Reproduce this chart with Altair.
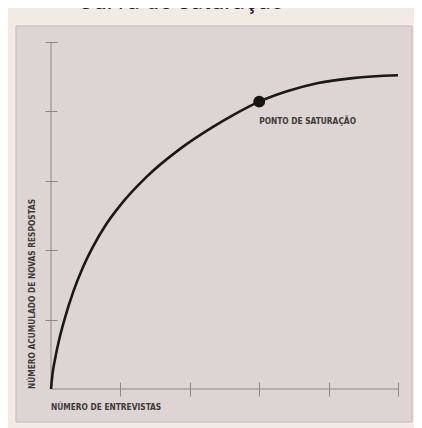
import altair as alt
import pandas as pd

# --- data ---
interviews = [0, 0.02, 0.06, 0.12, 0.2, 0.32, 0.45, 0.6, 0.8, 1.0, 1.38, 1.86, 2.34, 2.63, 3.0, 3.4, 3.85, 4.35, 5.0]
new_answers = [0, 0.2, 0.44, 0.72, 1.02, 1.40, 1.73, 2.04, 2.38, 2.65, 3.06, 3.46, 3.78, 3.95, 4.14, 4.29, 4.41, 4.48, 4.52]
sat_x = [3.0]
sat_y = [4.14]
sat_label = ["PONTO DE SATURAÇÃO"]
tick_values = [1, 2, 3, 4, 5]
title_text = "Curva de saturação"
x_title = "NÚMERO DE ENTREVISTAS"
y_title = "NÚMERO ACUMULADO DE NOVAS RESPOSTAS"

W = 347
H = 347
FONT = "DejaVu Sans Condensed, Liberation Sans Narrow, sans-serif"
FS = 8.3
TXT = "#3e3938"
AX = "#8e8786"

curve = pd.DataFrame({"x": interviews, "y": new_answers})
sat = pd.DataFrame({"x": sat_x, "y": sat_y, "label": sat_label})
one = pd.DataFrame({"t": [""]})

xs = alt.Scale(domain=[0, 5], nice=False, zero=False)
ys = alt.Scale(domain=[0, 5], nice=False, zero=False)

panel = alt.Chart(one).mark_rect(fill="#ddd5d3", stroke="#c4bbb9", strokeWidth=1).encode(
    x=alt.value(-35), x2=alt.value(W + 14), y=alt.value(-16), y2=alt.value(H + 33)
)

x_line = alt.Chart(one).mark_rule(color=AX, strokeWidth=1).encode(
    x=alt.value(0), x2=alt.value(W), y=alt.value(H)
)
y_line = alt.Chart(one).mark_rule(color=AX, strokeWidth=1).encode(
    x=alt.value(0), y=alt.value(0), y2=alt.value(H)
)

line = alt.Chart(curve).mark_line(color="#1b1818", strokeWidth=2.6, interpolate="monotone").encode(
    x=alt.X("x:Q", scale=xs, axis=alt.Axis(values=tick_values, labels=False, title="", domain=False,
                                          grid=False, tickSize=14, offset=-7, tickColor=AX, tickWidth=1,
                                          zindex=1)),
    y=alt.Y("y:Q", scale=ys, axis=alt.Axis(values=tick_values, labels=False, title="", domain=False,
                                          grid=False, tickSize=12, offset=-6, tickColor=AX, tickWidth=1,
                                          zindex=1)),
)

dot = alt.Chart(sat).mark_point(filled=True, size=140, color="#161313", opacity=1).encode(
    x=alt.X("x:Q", scale=xs), y=alt.Y("y:Q", scale=ys)
)

dot_label = alt.Chart(sat).mark_text(
    align="left", baseline="alphabetic", dx=0, dy=22, font=FONT, fontWeight="bold", fontSize=FS, color=TXT
).encode(x=alt.X("x:Q", scale=xs), y=alt.Y("y:Q", scale=ys), text="label:N")

xt = alt.Chart(pd.DataFrame({"t": [x_title]})).mark_text(
    align="left", baseline="middle", font=FONT, fontWeight="bold", fontSize=FS, color=TXT
).encode(x=alt.value(0), y=alt.value(H + 19), text="t:N")

yt = alt.Chart(pd.DataFrame({"t": [y_title]})).mark_text(
    align="left", baseline="middle", angle=270, font=FONT, fontWeight="bold", fontSize=FS, color=TXT
).encode(x=alt.value(-18), y=alt.value(H), text="t:N")

tt = alt.Chart(pd.DataFrame({"t": [title_text]})).mark_text(
    align="center", baseline="alphabetic", font="Roboto", fontSize=24, color="#1e1e1e"
).encode(x=alt.value(130), y=alt.value(-33), text="t:N")

chart = alt.layer(panel, x_line, y_line, line, dot, dot_label, xt, yt, tt).properties(
    width=W, height=H,
    autosize=alt.AutoSizeParams(type="none"),
    padding={"left": 43, "top": 34, "right": 16, "bottom": 40},
    background="#f3eae6",
).configure_view(stroke=None)

chart.save("out.html", embed_options={"renderer": "svg", "actions": False})
